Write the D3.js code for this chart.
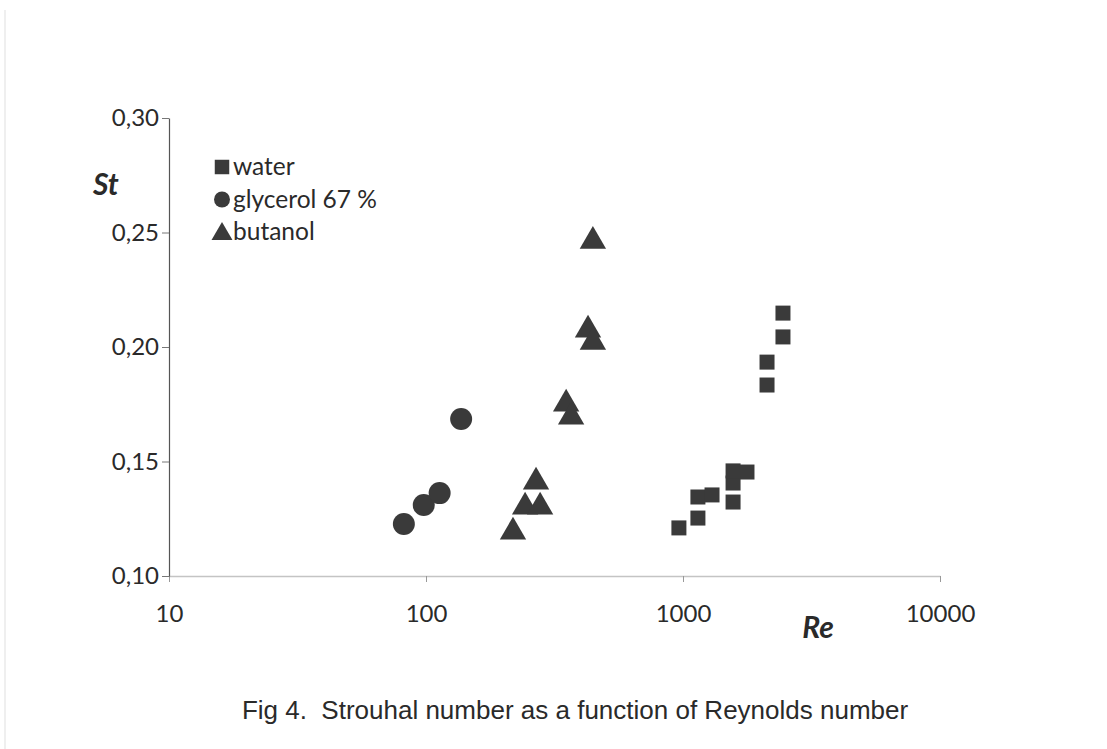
<!DOCTYPE html>
<html lang="en">
<head>
<meta charset="UTF-8" />
<title>Strouhal vs Reynolds</title>
<script src="https://d3js.org/d3.v7.min.js"></script>
<style>
  body { margin: 0; background: #fff; }
  text { fill: #2a2a2a; }
</style>
</head>
<body>
<svg id="svg" width="1107" height="749"></svg>
<script>
// data
const seriesNames = ["water", "glycerol 67 %", "butanol"]
const waterRe = [964, 1143, 1143, 1297, 1566, 1566, 1566, 1774, 2123, 2123, 2449, 2449]
const waterSt = [0.121, 0.1253, 0.1345, 0.1354, 0.1323, 0.1406, 0.1459, 0.1454, 0.1834, 0.1934, 0.2044, 0.2148]
const glycRe = [82, 98, 113, 137]
const glycSt = [0.1227, 0.131, 0.1362, 0.1686]
const butRe = [218, 243, 278, 268, 351, 367, 427, 446, 446]
const butSt = [0.121, 0.1319, 0.1319, 0.1428, 0.1769, 0.1712, 0.2092, 0.2039, 0.248]
const xTicks = [10, 100, 1000, 10000]
const yTicks = [0.10, 0.15, 0.20, 0.25, 0.30]

const svg = d3.select("#svg")
const markColor = "#3a3a3a"

// faint page edge from the scan
svg.append("line").attr("x1", 5).attr("x2", 5).attr("y1", 10).attr("y2", 749)
  .attr("stroke", "#efefef").attr("stroke-width", 2)

const x = d3.scaleLog().domain([10, 10000]).range([169, 940])
const y = d3.scaleLinear().domain([0.10, 0.30]).range([576, 118])

// x axis
const gx = svg.append("g").attr("transform", `translate(0,${y(0.10)})`)
  .call(d3.axisBottom(x).tickValues(xTicks).tickSize(6).tickSizeOuter(0)
    .tickFormat(d3.format("d")))
gx.select(".domain").attr("stroke", "#c4c4c4").attr("stroke-width", 1.5)
gx.selectAll(".tick line").attr("stroke", "#999")
gx.selectAll(".tick text").attr("dy", 0).attr("y", 46)
  .style("font-family", "Lato").style("font-size", "24px").attr("fill", "#2a2a2a")

// y axis
const gy = svg.append("g").attr("transform", `translate(${x(10)},0)`)
  .call(d3.axisLeft(y).tickValues(yTicks).tickSize(7).tickSizeOuter(0)
    .tickFormat(d => d.toFixed(2).replace(".", ",")))
gy.select(".domain").attr("stroke", "#555").attr("stroke-width", 1.2)
gy.selectAll(".tick line").attr("stroke", "#777")
gy.selectAll(".tick text").attr("x", -10)
  .style("font-family", "Lato").style("font-size", "24px").attr("fill", "#2a2a2a")

// axis titles
svg.append("text").attr("x", 93).attr("y", 195).text("St")
  .style("font-family", "Lato").style("font-size", "30px")
  .style("font-weight", "bold").style("font-style", "italic")
svg.append("text").attr("x", 818).attr("y", 638).attr("text-anchor", "middle").text("Re")
  .style("font-family", "Lato").style("font-size", "30px")
  .style("font-weight", "bold").style("font-style", "italic")

// points
const sym = [d3.symbolSquare, d3.symbolCircle, d3.symbolTriangle]
const sizes = [225, 380, 300]
const shiftY = [0, 0, 4] // triangle drawn about its centroid
const groups = [
  d3.zip(waterRe, waterSt),
  d3.zip(glycRe, glycSt),
  d3.zip(butRe, butSt)
]
groups.forEach((pts, i) => {
  svg.append("g").selectAll("path")
    .data(pts)
    .enter()
    .append("path")
    .attr("transform", d => `translate(${x(d[0])},${y(d[1]) + shiftY[i]})`)
    .attr("d", d3.symbol().type(sym[i]).size(sizes[i]))
    .attr("fill", markColor)
})

// legend
const legend = svg.append("g").attr("transform", "translate(222,167)")
const legSizes = [210, 200, 190]
seriesNames.forEach((name, i) => {
  const row = legend.append("g").attr("transform", `translate(0,${i * 32.5})`)
  row.append("path").attr("d", d3.symbol().type(sym[i]).size(legSizes[i]))
    .attr("transform", `translate(0,${shiftY[i] / 2})`)
    .attr("fill", markColor)
  row.append("text").attr("x", 11).attr("y", 8).text(name)
    .style("font-family", "Lato").style("font-size", "24.5px")
})

// caption
svg.append("text").attr("x", 575).attr("y", 719).attr("text-anchor", "middle")
  .attr("xml:space", "preserve").style("white-space", "pre")
  .text("Fig 4.  Strouhal number as a function of Reynolds number")
  .style("font-family", "Liberation Sans").style("font-size", "26px")
  .attr("fill", "#1e1e1e")
</script>
</body>
</html>
